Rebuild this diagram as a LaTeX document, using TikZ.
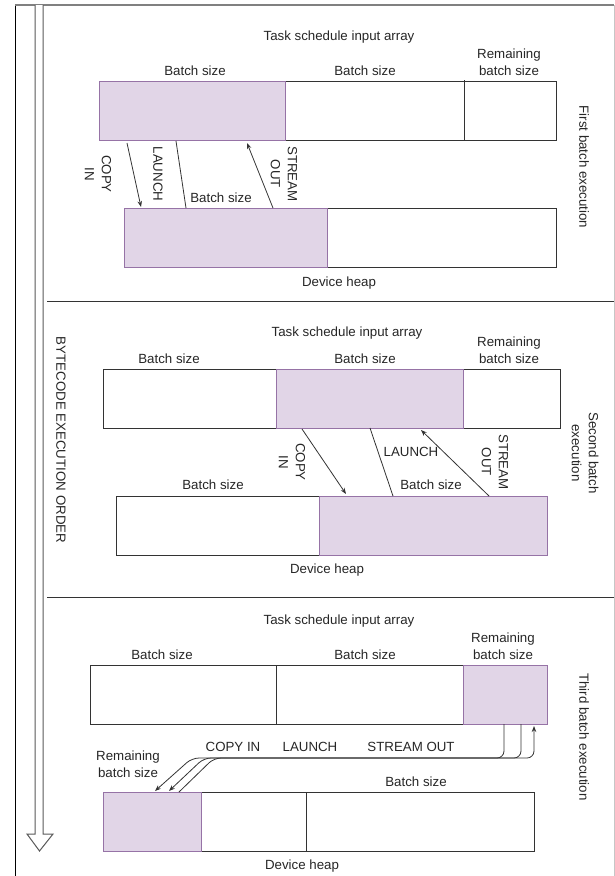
\documentclass[tikz,border=0pt]{standalone}
\usepackage{fontspec}
\setmainfont{Liberation Sans}
\usetikzlibrary{arrows.meta}
\definecolor{heapfill}{HTML}{E1D5E7}
\definecolor{heapline}{HTML}{9673A6}
\definecolor{edge}{HTML}{333333}

\begin{document}
\begin{tikzpicture}[x=1pt,y=-1pt,
    >={Stealth[length=6pt,width=4.5pt]},
    lbl/.style={font=\fontsize{13.3}{17}\selectfont, text=black!85, inner sep=0pt, align=center},
    cell/.style={draw=edge, line width=1pt, fill=white},
    busy/.style={draw=heapline, line width=1pt, fill=heapfill},
    flow/.style={draw=black!80, line width=0.8pt}]
        \useasboundingbox (0,0) rectangle (615,876);

        % frame and separators
        \draw [line width=1pt, black]     (15,876) -- (15,5);
        \draw [line width=1.5pt, gray]    (15,5)   -- (614,5);
        \draw [line width=1pt, gray!45]   (614,5)  -- (614,876);
        \draw [line width=1pt, edge]      (47,301) -- (614,301);
        \draw [line width=1pt, edge]      (47,597) -- (614,597);

        % execution order arrow
        \draw [line width=1pt, draw=gray!70!black, fill=white]
              (35,5) -- (35,834) -- (27,834) -- (39.5,851) -- (53,834) -- (43,834) -- (43,5);
        \node [lbl, rotate=-90] (order) at (61,440) {BYTECODE EXECUTION ORDER};

        % first batch
        \draw [cell]  (99,81)   rectangle (556,140);
        \draw [busy]  (99,81)   rectangle (285,140);
        \draw [edge, line width=1pt] (464,80) -- (464,141);
        \draw [cell]  (124,208) rectangle (556,267);
        \draw [busy]  (124,208) rectangle (327,267);

        \node [lbl] (in1)   at (339,37)   {Task schedule input array};
        \node [lbl] (b1a)   at (195,71)   {Batch size};
        \node [lbl] (b1b)   at (365,71)   {Batch size};
        \node [lbl] (r1)    at (509,62.5) {Remaining\\batch size};
        \node [lbl] (heap1) at (339,283)  {Device heap};
        \node [lbl] (hb1)   at (221,198)  {Batch size};
        \node [lbl, rotate=-90] (ci1) at (98,174)  {COPY\\IN};
        \node [lbl, rotate=-90] (la1) at (158,174) {LAUNCH};
        \node [lbl, rotate=-90] (so1) at (284,174) {STREAM\\OUT};
        \node [lbl, rotate=-90] (run1) at (584,167) {First batch execution};

        \coordinate (ci1s) at (127,143); \coordinate (ci1t) at (141,207);
        \coordinate (la1s) at (176,141); \coordinate (la1t) at (186,208);
        \coordinate (so1s) at (273,208); \coordinate (so1t) at (247,143);
        \draw [flow, ->] (ci1s) -- (ci1t);
        \draw [flow]     (la1s) -- (la1t);
        \draw [flow, ->] (so1s) -- (so1t);

        % second batch
        \draw [cell]  (103,369) rectangle (560,428);
        \draw [busy]  (276,369) rectangle (463,428);
        \draw [cell]  (116,496) rectangle (547,555);
        \draw [busy]  (319,496) rectangle (547,555);

        \node [lbl] (in2)   at (347,333)  {Task schedule input array};
        \node [lbl] (b2a)   at (169,359)  {Batch size};
        \node [lbl] (b2b)   at (365,359)  {Batch size};
        \node [lbl] (r2)    at (509,350)  {Remaining\\batch size};
        \node [lbl] (hb2a)  at (213,485)  {Batch size};
        \node [lbl] (hb2b)  at (431,485)  {Batch size};
        \node [lbl] (heap2) at (327,570)  {Device heap};
        \node [lbl, rotate=-90] (ci2) at (292,462) {COPY\\IN};
        \node [lbl]             (la2) at (411,452) {LAUNCH};
        \node [lbl, rotate=-90] (so2) at (495,462) {STREAM\\OUT};
        \node [lbl, rotate=-90] (run2) at (585,453) {Second batch\\execution};

        \coordinate (ci2s) at (302,429); \coordinate (ci2t) at (346,494);
        \coordinate (la2s) at (370,428); \coordinate (la2t) at (393,496);
        \coordinate (so2s) at (489,496); \coordinate (so2t) at (421,430);
        \draw [flow, ->] (ci2s) -- (ci2t);
        \draw [flow]     (la2s) -- (la2t);
        \draw [flow, ->] (so2s) -- (so2t);

        % third batch
        \draw [cell]  (90,665)  rectangle (547,724);
        \draw [edge, line width=1pt] (276,665) -- (276,724);
        \draw [busy]  (463,665) rectangle (547,724);
        \draw [cell]  (103,792) rectangle (534,851);
        \draw [edge, line width=1pt] (306,792) -- (306,851);
        \draw [busy]  (103,792) rectangle (201,851);

        \node [lbl] (in3)   at (339,621)  {Task schedule input array};
        \node [lbl] (b3a)   at (162,655)  {Batch size};
        \node [lbl] (b3b)   at (365,655)  {Batch size};
        \node [lbl] (r3)    at (503,646.5){Remaining\\batch size};
        \node [lbl] (hb3)   at (416,782)  {Batch size};
        \node [lbl] (hr3)   at (128,764.5){Remaining\\batch size};
        \node [lbl] (heap3) at (302,866)  {Device heap};
        \node [lbl] (ci3)   at (233,747)  {COPY IN};
        \node [lbl] (la3)   at (310,747)  {LAUNCH};
        \node [lbl] (so3)   at (411,747)  {STREAM OUT};
        \node [lbl, rotate=-90] (run3) at (584,737) {Third batch execution};

        \coordinate (ci3s) at (504,724); \coordinate (ci3m) at (192,758); \coordinate (ci3t) at (155,791);
        \coordinate (la3s) at (521,724); \coordinate (la3m) at (204,758); \coordinate (la3t) at (169,791);
        \coordinate (so3s) at (179,792); \coordinate (so3m) at (214,758); \coordinate (so3t) at (534,726);
        \draw [flow, ->, rounded corners=7pt] (ci3s) |- (ci3m) -- (ci3t);
        \draw [flow, ->, rounded corners=7pt] (la3s) |- (la3m) -- (la3t);
        \draw [flow, <-, rounded corners=7pt] (so3t) |- (so3m) -- (so3s);
      \end{tikzpicture}
\end{document}
